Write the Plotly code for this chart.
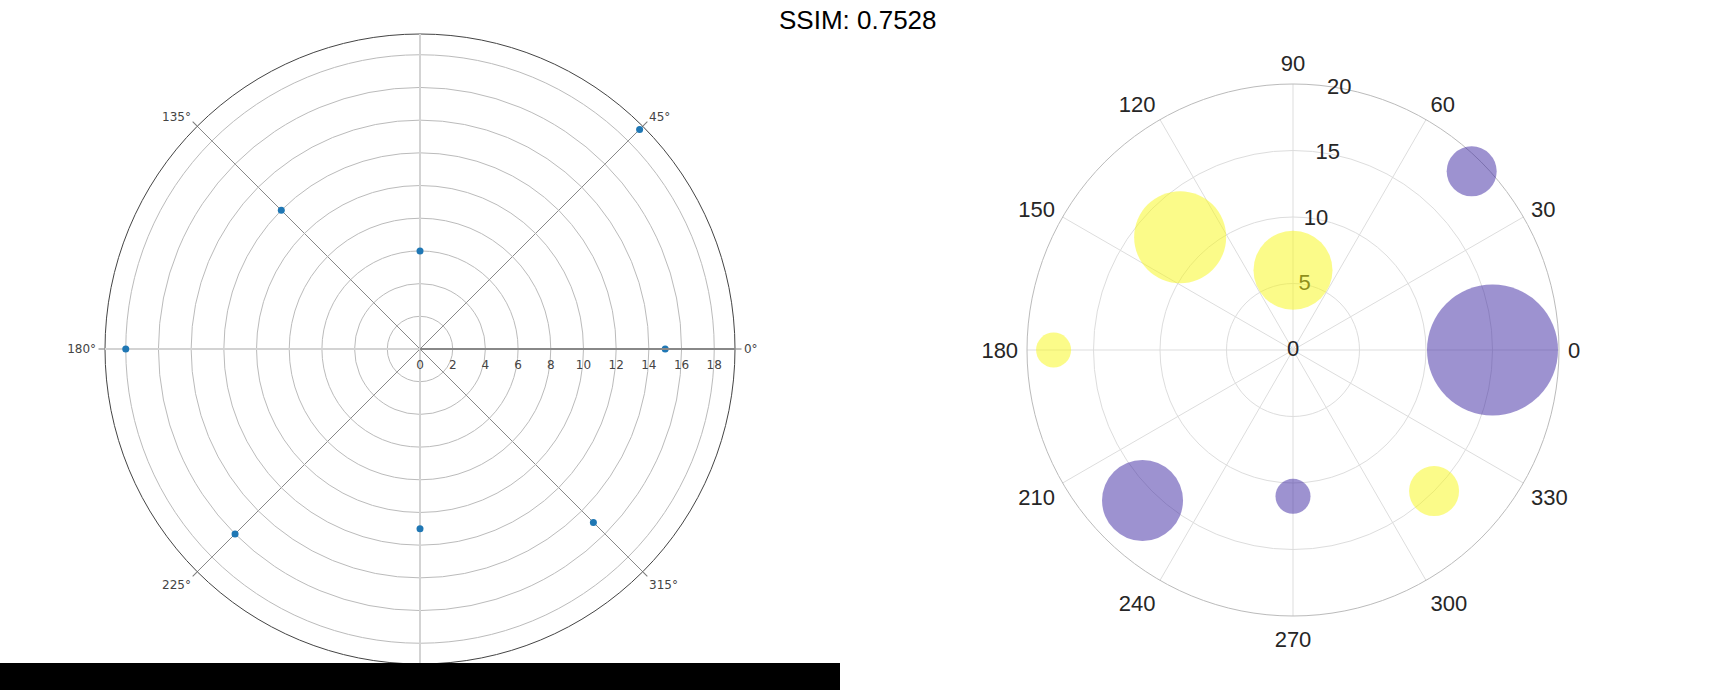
import plotly.graph_objects as go

# ---- data ----
theta_deg = [0, 45, 90, 135, 180, 225, 270, 315]
radius = [15, 19, 6, 12, 18, 16, 11, 15]
bubble_size = [131, 50, 79, 92, 35, 81, 35, 50]
group = [0, 0, 1, 1, 1, 0, 0, 1]
left_angle_ticks = [0, 45, 135, 180, 225, 315]
left_angle_labels = [f"{a}°" for a in left_angle_ticks]
left_radial_ticks = list(range(0, 20, 2))
right_angle_ticks = list(range(0, 360, 30))
right_angle_labels = [str(a) for a in right_angle_ticks]
right_radial_ticks = [0, 5, 10, 15, 20]
right_radial_label_angle = 80
group_colors = ["rgb(59,37,161)", "rgb(247,247,19)"]
title_text = "SSIM: 0.7528"

W, H = 1715, 690


def dom_x(cx, r):
    return [(cx - r) / W, (cx + r) / W]


def dom_y(cy, r):
    yb = H - cy
    return [(yb - r) / H, (yb + r) / H]


fig = go.Figure()

# invisible carrier so the base left polar gets rendered
fig.add_trace(go.Scatterpolar(
    r=radius, theta=theta_deg, mode="markers",
    marker=dict(color="#1f77b4", size=7, opacity=0),
    subplot="polar", showlegend=False, hoverinfo="skip",
))

# left chart points (on top overlay polar)
fig.add_trace(go.Scatterpolar(
    r=radius, theta=theta_deg, mode="markers",
    marker=dict(color="#1f77b4", size=7),
    subplot="polar2", showlegend=False,
))

right_font = dict(family="Liberation Sans, Arial", size=22, color="#262626")

# right chart radial tick labels (matplotlib-style, centred on the tick positions, below bubbles)
fig.add_trace(go.Scatterpolar(
    r=right_radial_ticks, theta=[right_radial_label_angle] * len(right_radial_ticks),
    mode="text", text=[str(v) for v in right_radial_ticks], textposition="middle center",
    textfont=right_font, subplot="polar3", showlegend=False, hoverinfo="skip",
))

# right chart bubbles
fig.add_trace(go.Scatterpolar(
    r=radius, theta=theta_deg, mode="markers",
    marker=dict(color=[group_colors[g] for g in group], size=bubble_size,
                sizemode="diameter", opacity=0.5, line=dict(width=0)),
    subplot="polar3", showlegend=False,
))

LX, LY, LR = 420, 349, 315
RX, RY, RR = 1293, 350, 266
left_font = dict(family="DejaVu Sans", size=12, color="#444")
left_rfont = dict(family="DejaVu Sans", size=12, color="#444")

fig.update_layout(
    width=W, height=H,
    margin=dict(l=0, r=0, t=0, b=0, pad=0),
    paper_bgcolor="white",
    showlegend=False,
    polar=dict(
        domain=dict(x=dom_x(LX, LR), y=dom_y(LY, LR)),
        bgcolor="white",
        radialaxis=dict(range=[0, 19.27], tickmode="array", tickvals=left_radial_ticks,
                        showgrid=True, gridcolor="#bbbbbb", gridwidth=1,
                        showline=False, showticklabels=False, ticks=""),
        angularaxis=dict(tickmode="array", tickvals=left_angle_ticks, ticktext=left_angle_labels,
                         direction="counterclockwise", rotation=0,
                         ticks="outside", ticklen=6, tickcolor="#777", tickwidth=1,
                         gridcolor="#888", gridwidth=0.5,
                         showline=True, linecolor="#444", linewidth=1,
                         tickfont=left_font),
    ),
    polar2=dict(
        domain=dict(x=dom_x(LX, LR), y=dom_y(LY, LR)),
        bgcolor="rgba(0,0,0,0)",
        radialaxis=dict(range=[0, 19.27], tickmode="array", tickvals=left_radial_ticks,
                        showgrid=False, showline=True, linecolor="#888", linewidth=2,
                        angle=0, ticks="outside", ticklen=5, tickcolor="rgba(0,0,0,0)",
                        tickfont=left_rfont),
        angularaxis=dict(tickmode="array", tickvals=[0, 90, 180, 270],
                         direction="counterclockwise", rotation=0,
                         showticklabels=False, ticks="",
                         gridcolor="#d3d3d3", gridwidth=2, showline=False),
    ),
    polar3=dict(
        domain=dict(x=dom_x(RX, RR), y=dom_y(RY, RR)),
        bgcolor="white",
        radialaxis=dict(range=[0, 20], tickmode="array", tickvals=right_radial_ticks,
                        showgrid=True, gridcolor="#dddddd", gridwidth=1,
                        showline=False, ticks="", showticklabels=False,
                        angle=right_radial_label_angle, layer="below traces"),
        angularaxis=dict(tickmode="array", tickvals=right_angle_ticks, ticktext=right_angle_labels,
                         direction="counterclockwise", rotation=0,
                         ticks="outside", ticklen=4, tickcolor="rgba(0,0,0,0)",
                         gridcolor="#dddddd", gridwidth=1,
                         showline=True, linecolor="#bbbbbb", linewidth=1,
                         layer="below traces", tickfont=right_font),
    ),
    annotations=[dict(text=title_text, x=0.5, y=1 - 20 / H, xref="paper", yref="paper",
                      xanchor="center", yanchor="middle", showarrow=False,
                      font=dict(family="Liberation Sans, Arial", size=26, color="black"))],
    shapes=[dict(type="rect", xref="paper", yref="paper", x0=0, x1=840 / W, y0=0, y1=27 / H,
                 fillcolor="black", line=dict(width=0), layer="above")],
)

fig.write_html("out.html", config={"displayModeBar": False},
               post_script="document.body.style.margin='0';")
